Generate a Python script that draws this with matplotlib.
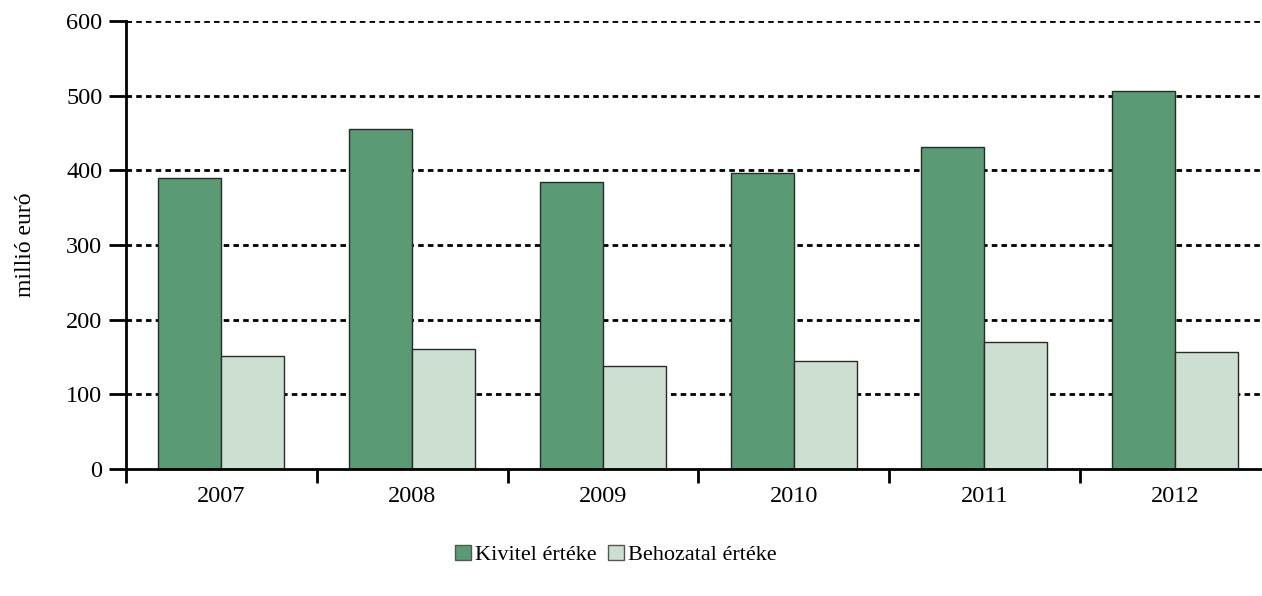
import matplotlib
matplotlib.use("Agg")
import matplotlib.pyplot as plt
import numpy as np
from matplotlib.patches import Patch

years = ["2007", "2008", "2009", "2010", "2011", "2012"]
kivitel = [390, 455, 384, 396, 431, 506]
behozatal = [151, 161, 138, 145, 170, 157]
series_labels = ["Kivitel értéke", "Behozatal értéke"]
y_ticks = [0, 100, 200, 300, 400, 500, 600]

plt.rcParams['font.family'] = ['Liberation Serif', 'DejaVu Serif']

fig = plt.figure(figsize=(12.62, 5.96), dpi=100)
ax = fig.add_axes([126/1262, 1 - 469/596, 1 - 126/1262, (469 - 21)/596])

x = np.arange(len(years))
w = 0.33
c1 = "#5a9a74"
c2 = "#cddfd1"
ax.bar(x - w/2, kivitel, w, color=c1, edgecolor="#2a2a2a", linewidth=1.0, zorder=3)
ax.bar(x + w/2, behozatal, w, color=c2, edgecolor="#2a2a2a", linewidth=1.0, zorder=3)

ax.set_ylim(0, 600)
ax.set_xlim(-0.5, 5.455)
ax.set_yticks(y_ticks)
ax.set_yticklabels([str(v) for v in y_ticks], fontsize=17.5)
for v in y_ticks[1:]:
    ax.axhline(v, color="black", linestyle=(0, (2.0, 1.5)), linewidth=2.0, zorder=1)

ax.set_xticks(np.arange(len(years)) - 0.5)
ax.set_xticklabels([])
ax.set_xticks(x, minor=True)
ax.set_xticklabels(years, minor=True, fontsize=17.5)
ax.tick_params(axis="x", which="minor", length=0, pad=12)
ax.tick_params(axis="x", which="major", length=10, width=2, direction="out")
ax.tick_params(axis="y", length=12, width=2, direction="out", pad=5)

for s in ["top", "right"]:
    ax.spines[s].set_visible(False)
for s in ["left", "bottom"]:
    ax.spines[s].set_linewidth(2)
    ax.spines[s].set_zorder(4)

ax.set_ylabel("millió euró", fontsize=17, labelpad=22)

handles = [Patch(facecolor=c1, edgecolor="#555555", linewidth=1.0),
           Patch(facecolor=c2, edgecolor="#555555", linewidth=1.0)]
fig.legend(handles, series_labels, loc="center", bbox_to_anchor=(616/1262, 1 - 555/596),
           ncol=2, frameon=False, fontsize=16, handlelength=0.7, handleheight=0.7,
           handletextpad=0.2, columnspacing=0.5)

fig.savefig("out.png", dpi=100)
